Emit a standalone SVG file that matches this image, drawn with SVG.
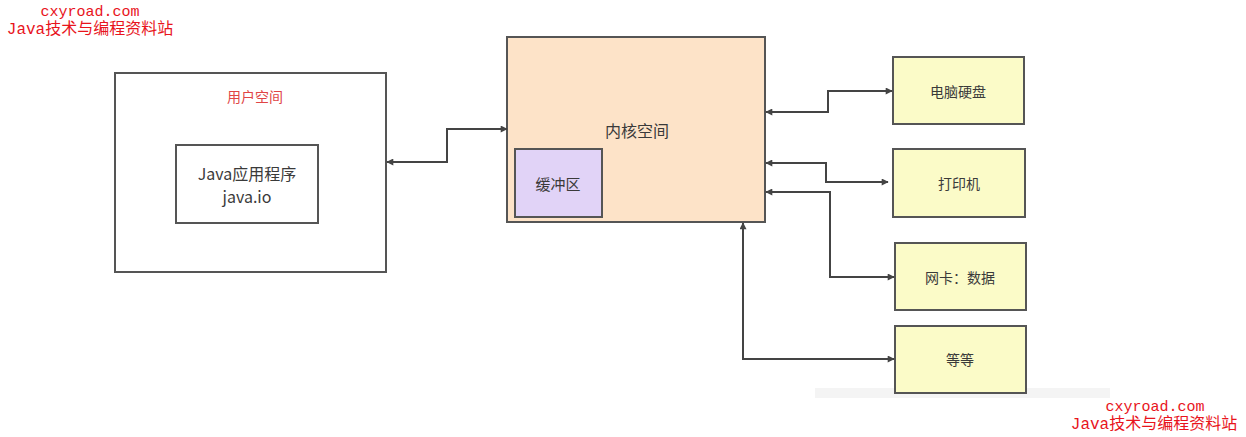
<svg xmlns="http://www.w3.org/2000/svg" width="1246" height="437" viewBox="0 0 1246 437">
<defs>
<style>
.box{stroke:#555;stroke-width:2}
.t{font-family:"Noto Sans CJK SC","Liberation Sans",sans-serif;fill:#3a3a3a;text-anchor:middle;dominant-baseline:central}
.wm{font-family:"Liberation Mono","Noto Sans CJK SC",monospace;fill:#e8141c;text-anchor:middle}
.c{fill:none;stroke:#444;stroke-width:2}
</style>
<marker id="a" viewBox="0 0 10 10" refX="9" refY="5" markerWidth="8" markerHeight="7" markerUnits="userSpaceOnUse" orient="auto-start-reverse">
<path d="M0,0 L10,5 L0,10 z" fill="#444"/>
</marker>
</defs>
<rect width="1246" height="437" fill="#fff"/>
<rect x="815" y="388" width="295" height="10" fill="#f4f4f4"/>
<g id="watermark-top">
<text class="wm" x="90" y="16" font-size="15">cxyroad.com</text>
<text class="wm" x="90" y="34" font-size="16">Java技术与编程资料站</text>
</g>
<g id="watermark-bottom">
<text class="wm" x="1155" y="411" font-size="15">cxyroad.com</text>
<text class="wm" x="1154" y="429" font-size="16">Java技术与编程资料站</text>
</g>
<g id="user-space">
<rect class="box" x="115" y="73" width="271" height="199" fill="#fff"/>
<text class="t" x="255" y="96" font-size="14" style="fill:#e04545">用户空间</text>
</g>
<g id="java-app">
<rect class="box" x="176" y="145" width="142" height="78" fill="#fff"/>
<text class="t" x="247" y="173" font-size="16">Java应用程序</text>
<text class="t" x="247" y="196" font-size="16">java.io</text>
</g>
<g id="kernel">
<rect class="box" x="507" y="37" width="258" height="185" fill="#fde3c8"/>
<text class="t" x="637" y="130" font-size="16">内核空间</text>
</g>
<g id="buffer">
<rect class="box" x="515" y="149" width="87" height="68" fill="#e1d3f7"/>
<text class="t" x="558" y="183" font-size="15">缓冲区</text>
</g>
<g id="disk">
<rect class="box" x="893" y="57" width="131" height="67" fill="#fbfbc8"/>
<text class="t" x="958" y="91" font-size="14">电脑硬盘</text>
</g>
<g id="printer">
<rect class="box" x="893" y="149" width="132" height="68" fill="#fbfbc8"/>
<text class="t" x="959" y="183" font-size="14">打印机</text>
</g>
<g id="nic">
<rect class="box" x="895" y="243" width="131" height="67" fill="#fbfbc8"/>
<text class="t" x="960" y="277" font-size="14">网卡：数据</text>
</g>
<g id="etc">
<rect class="box" x="895" y="326" width="131" height="67" fill="#fbfbc8"/>
<text class="t" x="960" y="359" font-size="14">等等</text>
</g>
<g id="connectors">
<path class="c" d="M387,162 H447 V129 H507" marker-start="url(#a)" marker-end="url(#a)"/>
<path class="c" d="M766,112 H828 V91 H892" marker-start="url(#a)" marker-end="url(#a)"/>
<path class="c" d="M766,163 H826 V182 H888" marker-start="url(#a)" marker-end="url(#a)"/>
<path class="c" d="M766,192 H830 V277 H894" marker-start="url(#a)" marker-end="url(#a)"/>
<path class="c" d="M743,223 V359 H894" marker-start="url(#a)" marker-end="url(#a)"/>
</g>
</svg>
